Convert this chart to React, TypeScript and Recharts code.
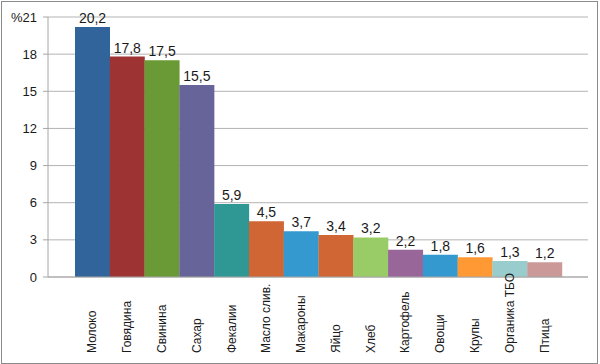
import { BarChart, Bar, XAxis, YAxis, CartesianGrid, Cell, LabelList } from 'recharts';

const products = ['Молоко', 'Говядина', 'Свинина', 'Сахар', 'Фекалии', 'Масло слив.', 'Макароны', 'Яйцо', 'Хлеб', 'Картофель', 'Овощи', 'Крупы', 'Органика ТБО', 'Птица'];
const shares = [20.2, 17.8, 17.5, 15.5, 5.9, 4.5, 3.7, 3.4, 3.2, 2.2, 1.8, 1.6, 1.3, 1.2];
const colors = ['#31649b', '#9e3334', '#6a9a35', '#67649a', '#2f9894', '#cf6633', '#3399cf', '#cf6633', '#99cc66', '#996699', '#3399cf', '#ff9933', '#99cccc', '#cc9999'];
const yTicks = [0, 3, 6, 9, 12, 15, 18, 21];

const data = products.map((name, i) => ({ name, value: shares[i] }));

const font = '"Liberation Sans", Arial, sans-serif';

function ProductTick({ x, payload }: any) {
  return (
    <text
      transform={`translate(${x + 4}, 353) rotate(-90)`}
      textAnchor="start"
      fontSize={12}
      fontFamily={font}
      fill="#1a1a1a"
    >
      {payload.value}
    </text>
  );
}

export default function App() {
  return (
    <div style={{ position: 'absolute', left: 0, top: 0, width: 600, height: 364, background: '#fff' }}>
      <BarChart
        width={600}
        height={364}
        data={data}
        margin={{ top: 17, right: 12, left: 0, bottom: 0 }}
        barCategoryGap={0}
      >
        <CartesianGrid vertical={false} stroke="#b3b3b3" />
        <XAxis
          dataKey="name"
          interval={0}
          height={87}
          padding={{ left: 27, right: 26 }}
          axisLine={{ stroke: '#a6a6a6' }}
          tickLine={false}
          tick={<ProductTick />}
        />
        <YAxis
          width={48}
          domain={[0, 21]}
          ticks={yTicks}
          interval={0}
          axisLine={{ stroke: '#a6a6a6' }}
          tickLine={{ stroke: '#a6a6a6' }}
          tickSize={5}
          tickMargin={6}
          tickFormatter={(v) => (v === 21 ? '%21' : String(v))}
          tick={{ fill: '#1a1a1a', fontSize: 13, fontFamily: font }}
        />
        <Bar dataKey="value" isAnimationActive={false}>
          {data.map((d, i) => (
            <Cell key={d.name} fill={colors[i]} />
          ))}
          <LabelList
            dataKey="value"
            position="top"
            offset={4}
            formatter={(v: any) => String(v).replace('.', ',')}
            style={{ fill: '#1a1a1a', fontSize: 14, fontFamily: font }}
          />
        </Bar>
      </BarChart>
      <div
        style={{
          position: 'absolute',
          left: 1,
          top: 1,
          width: 597,
          height: 363,
          boxSizing: 'border-box',
          border: '1px solid #8a8a8a',
          pointerEvents: 'none',
          zIndex: 10,
        }}
      />
    </div>
  );
}
